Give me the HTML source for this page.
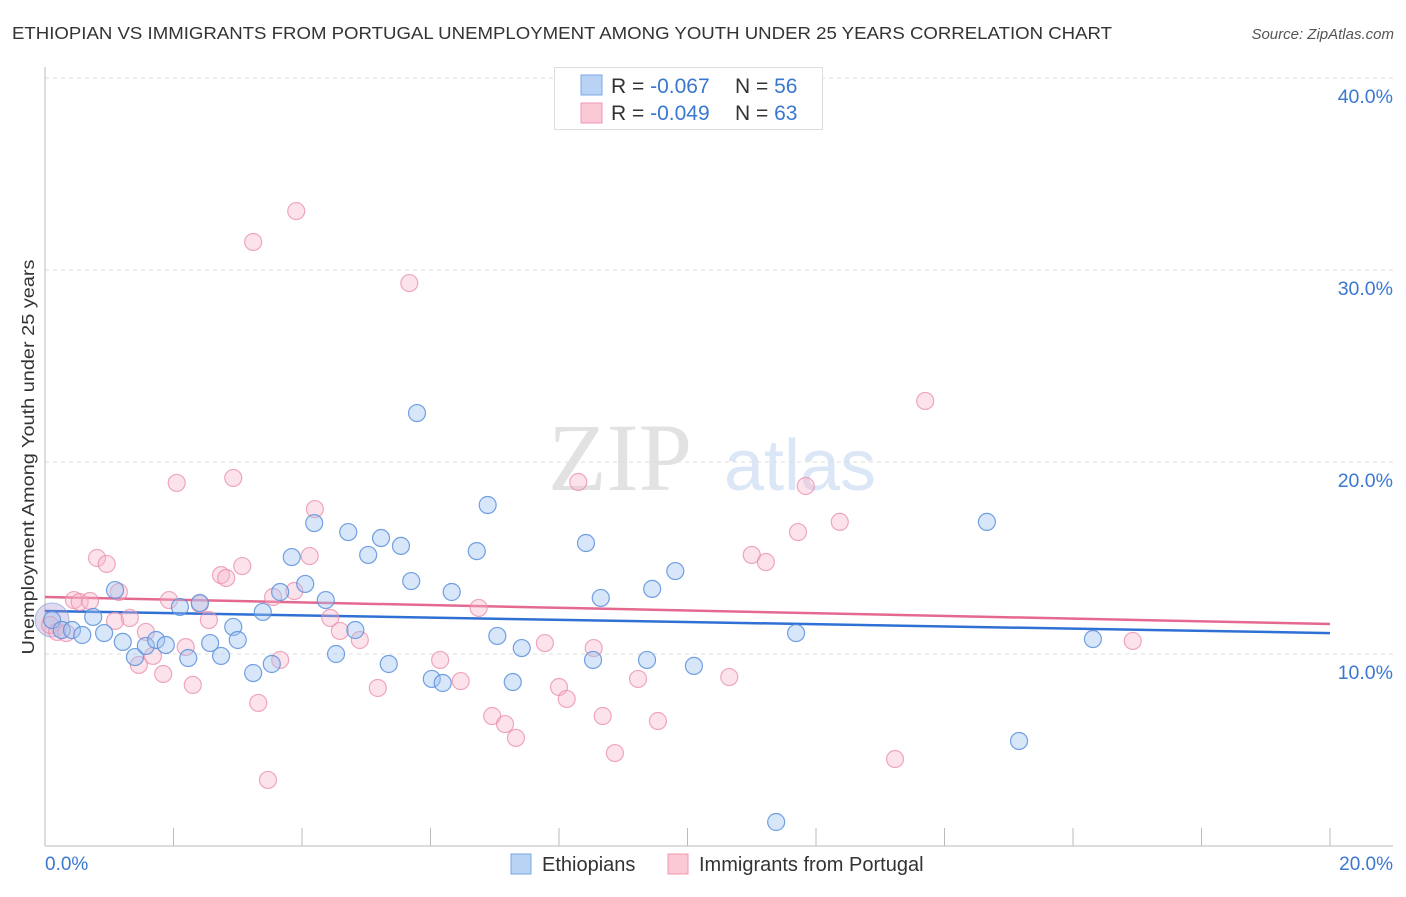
<!DOCTYPE html>
<html><head><meta charset="utf-8"><style>
body{margin:0;background:#fff;font-family:"Liberation Sans",sans-serif;}
svg text{font-family:"Liberation Sans",sans-serif;}
</style></head><body>
<svg id="chart" width="1406" height="892" xmlns="http://www.w3.org/2000/svg">
<text x="12" y="39" font-size="17.5" fill="#333" textLength="1100" lengthAdjust="spacingAndGlyphs">ETHIOPIAN VS IMMIGRANTS FROM PORTUGAL UNEMPLOYMENT AMONG YOUTH UNDER 25 YEARS CORRELATION CHART</text>
<text x="1394" y="39" font-size="15" fill="#555" text-anchor="end" font-style="italic">Source: ZipAtlas.com</text>
<text x="620" y="490" font-size="96" fill="#e2e2e2" text-anchor="middle" style="font-family:'Liberation Serif',serif">ZIP</text>
<text x="800" y="490" font-size="72" fill="#dbe7f7" text-anchor="middle">atlas</text>
<g id="grid"></g>
<g id="axes"></g>
<g id="trend"></g>
<g id="points"></g>
<text transform="translate(34,457) rotate(-90)" font-size="17.5" fill="#333" text-anchor="middle" textLength="395" lengthAdjust="spacingAndGlyphs">Unemployment Among Youth under 25 years</text>
<g>
<rect x="554.5" y="67.5" width="268" height="62" fill="#fff" stroke="#ddd"/>
<rect x="581" y="75" width="21" height="20" fill="#b9d3f5" stroke="#7aa7e4"/>
<rect x="581" y="103" width="21" height="20" fill="#fbc8d6" stroke="#ee9ab3"/>
<text x="611" y="93" font-size="21" fill="#333">R = <tspan fill="#3a78d0">-0.067</tspan><tspan x="735">N = </tspan><tspan fill="#3a78d0">56</tspan></text>
<text x="611" y="120" font-size="21" fill="#333">R = <tspan fill="#3a78d0">-0.049</tspan><tspan x="735">N = </tspan><tspan fill="#3a78d0">63</tspan></text>
</g>
<g>
<rect x="511" y="854" width="20" height="20" fill="#b9d3f5" stroke="#7aa7e4"/>
<text x="542" y="871" font-size="20" fill="#333">Ethiopians</text>
<rect x="668" y="854" width="20" height="20" fill="#fbc8d6" stroke="#ee9ab3"/>
<text x="699" y="871" font-size="20" fill="#333">Immigrants from Portugal</text>
</g>
</svg>
<script>
const yTicks=[10,20,30,40];
const yTickLabels=["10.0%","20.0%","30.0%","40.0%"];
const xTickLabels=["0.0%","20.0%"];
const blueX=[0.11,0.26,0.42,0.58,0.75,0.92,1.09,1.21,1.40,1.57,1.73,1.88,2.10,2.23,2.41,2.57,2.74,2.93,3.00,3.24,3.39,3.53,3.66,3.84,4.05,4.19,4.37,4.53,4.72,4.83,5.03,5.23,5.35,5.54,5.70,5.79,6.02,6.19,6.33,6.72,6.89,7.04,7.28,7.42,8.42,8.65,8.53,9.37,9.45,9.81,10.10,11.69,14.66,15.16,16.31,11.38];
const blueY=[11.77,11.25,11.25,10.99,11.93,11.09,13.33,10.63,9.84,10.42,10.73,10.47,12.45,9.79,12.66,10.57,9.90,11.41,10.73,9.01,12.19,9.48,13.23,15.05,13.65,16.82,12.81,10.00,16.35,11.25,15.16,16.04,9.48,15.63,13.80,22.55,8.70,8.49,13.23,15.36,17.76,10.94,8.54,10.31,15.78,12.92,9.69,9.69,13.39,14.32,9.38,11.09,16.88,5.47,10.78,1.25];
const pinkX=[0.08,0.19,0.33,0.45,0.54,0.70,0.81,0.96,1.15,1.09,1.32,1.46,1.57,1.68,1.84,1.93,2.05,2.19,2.30,2.41,2.55,2.74,2.82,2.93,3.07,3.24,3.32,3.47,3.55,3.66,3.88,3.91,4.12,4.20,4.44,4.59,4.90,5.18,5.67,6.15,6.47,6.75,6.96,7.16,7.33,7.78,8.00,8.12,8.30,8.54,8.68,8.87,9.23,9.54,10.65,11.00,11.22,11.72,11.84,12.37,13.23,13.70,16.93];
const pinkY=[11.51,11.15,11.09,12.81,12.71,12.76,15.00,14.69,13.23,11.72,11.88,9.43,11.15,9.90,8.96,12.81,18.91,10.36,8.39,12.60,11.77,14.11,13.96,19.17,14.58,31.46,7.45,3.44,12.97,9.69,13.28,33.07,15.10,17.55,11.88,11.20,10.73,8.23,29.32,9.69,8.59,12.40,6.77,6.35,5.63,10.57,8.28,7.66,18.96,10.31,6.77,4.84,8.70,6.51,8.80,15.16,14.79,16.35,18.75,16.88,4.53,23.18,10.68];
const blueTrend=[12.24,11.09];
const pinkTrend=[12.97,11.56];
const X0=45,X1=1330,Y0=846;
const sx=v=>X0+(v/20)*(X1-X0);
const sy=v=>Y0-v*19.2;
const NS="http://www.w3.org/2000/svg";
function mk(tag,attrs,parent){const e=document.createElementNS(NS,tag);for(const k in attrs)e.setAttribute(k,attrs[k]);parent.appendChild(e);return e;}
const grid=document.getElementById('grid'),axes=document.getElementById('axes');
yTicks.forEach((t,i)=>{
 const l=mk('line',{x1:45,x2:1393,y1:sy(t),y2:sy(t),stroke:'#ddd','stroke-dasharray':'4,4'},grid);
 
 
 const tx=mk('text',{x:1393,y:sy(t)+25,'font-size':19.5,fill:'#3a78d0','text-anchor':'end'},axes);
 tx.textContent=yTickLabels[i];
 
 
});
let a=mk('line',{x1:45,x2:45,y1:67,y2:846,stroke:'#bbb'},axes);


a=mk('line',{x1:45,x2:1393,y1:846,y2:846,stroke:'#bbb'},axes);


for(let i=0;i<=10;i++){
 const t=mk('line',{x1:sx(i*2),x2:sx(i*2),y1:828,y2:846,stroke:'#bbb'},axes);
 
 
}
let xl=mk('text',{x:45,y:870,'font-size':19,fill:'#3a78d0'},axes);xl.textContent=xTickLabels[0];


xl=mk('text',{x:1393,y:870,'font-size':19,fill:'#3a78d0','text-anchor':'end'},axes);xl.textContent=xTickLabels[1];


const pts=document.getElementById('points');
function drawSeries(xs,ys,fill,stroke,name){
 xs.forEach((x,i)=>{
  const c=mk('circle',{cx:sx(x),cy:sy(ys[i]),r:8.5,fill:fill,stroke:stroke,'stroke-width':1.2},pts);
  
  
 });
}
const big=mk('circle',{cx:sx(blueX[0]),cy:sy(blueY[0]),r:17,fill:'rgba(170,150,210,0.35)',stroke:'rgba(120,150,220,0.6)'},pts);


drawSeries(pinkX,pinkY,'rgba(246,182,202,0.38)','rgba(234,140,170,0.75)','point-portugal');
drawSeries(blueX,blueY,'rgba(160,196,240,0.42)','rgba(90,145,220,0.85)','point-ethiopian');
const tr=document.getElementById('trend');
let tl=mk('line',{x1:sx(0),x2:sx(20),y1:sy(pinkTrend[0]),y2:sy(pinkTrend[1]),stroke:'#e4698f','stroke-width':2.5},tr);


tl=mk('line',{x1:sx(0),x2:sx(20),y1:sy(blueTrend[0]),y2:sy(blueTrend[1]),stroke:'#2f70d4','stroke-width':2.5},tr);


</script>
</body></html>
